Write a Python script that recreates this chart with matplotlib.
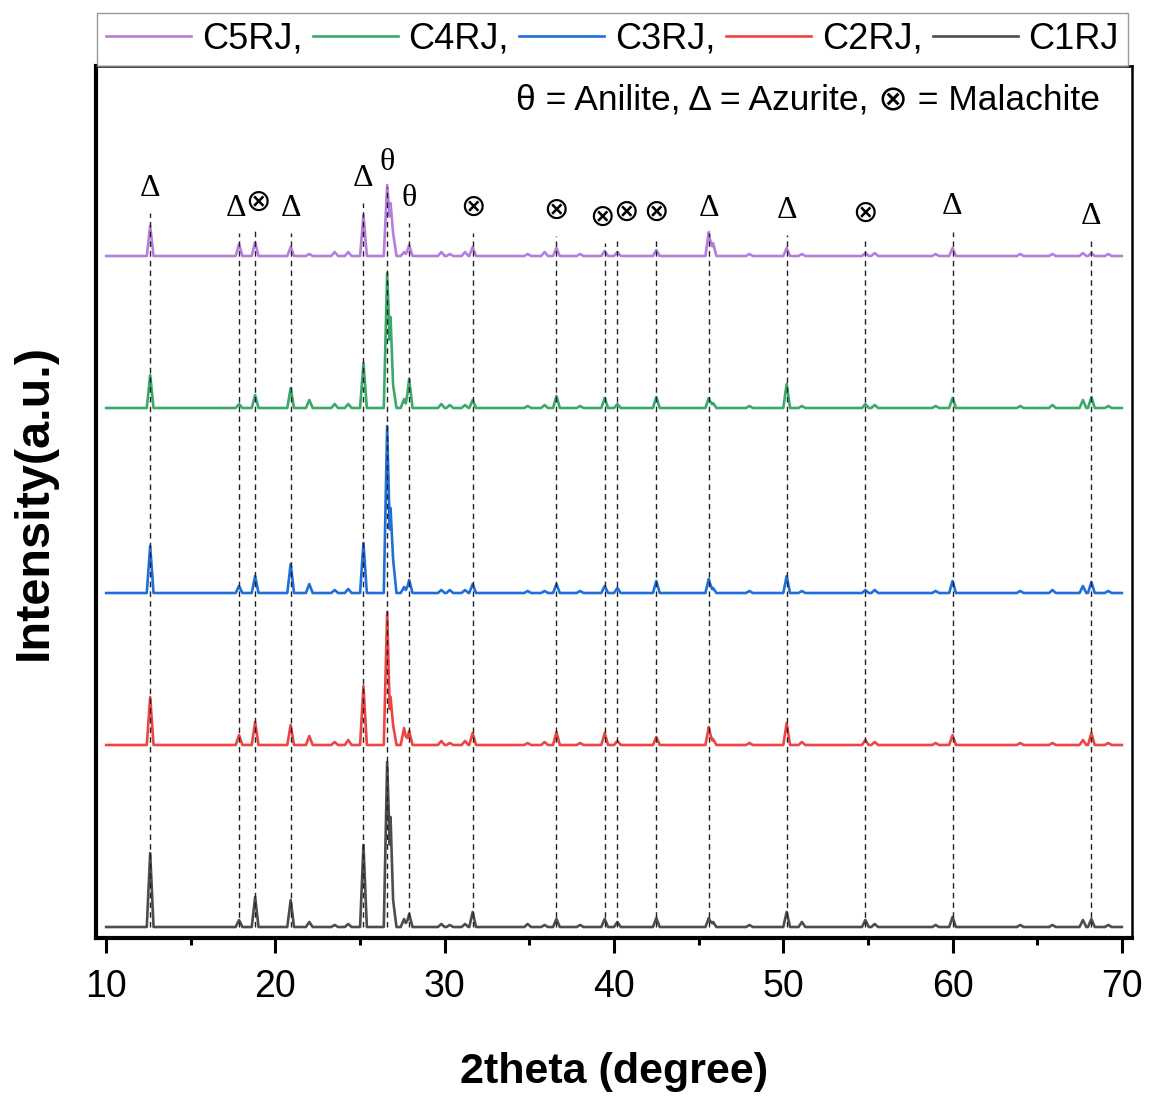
import numpy as np
import matplotlib

matplotlib.use("Agg")
import matplotlib.pyplot as plt
from matplotlib.ticker import MultipleLocator

SANS = ["Liberation Sans", "DejaVu Sans"]
SERIF = ["Liberation Serif", "DejaVu Sans"]

# peak positions (2theta, degree) shared by all samples
peak_pos = [12.6, 17.85, 18.8, 20.9, 22.0, 23.5, 24.3, 25.2, 26.6, 26.8, 26.95, 27.6, 27.9,
            29.8, 30.3, 31.2, 31.65, 34.9, 35.9, 36.6, 38.0, 39.45, 40.2, 42.5, 45.6, 45.85,
            48.0, 50.2, 51.1, 54.85, 55.4, 59.0, 60.0, 64.0, 65.9, 67.7, 68.2, 69.2]

# peak intensities (a.u.)
c1_int = [74, 7, 30, 27, 5, 2, 3, 82, 165, 110, 27, 8, 13, 3, 2, 3, 15, 3, 2, 8, 2, 8, 5, 9, 9, 5,
          2, 15, 5, 7, 3, 2, 10, 2, 2, 7, 8, 2]
c2_int = [48, 10, 23, 20, 9, 3, 5, 59, 133, 48, 20, 17, 14, 4, 2, 4, 12, 2, 3, 13, 2, 12, 4, 8, 18, 6,
          2, 22, 3, 5, 3, 2, 10, 2, 2, 5, 12, 2]
c3_int = [47, 7, 17, 29, 9, 3, 4, 50, 167, 85, 34, 6, 13, 3, 3, 3, 9, 2, 2, 9, 2, 7, 5, 12, 14, 5,
          2, 17, 2, 3, 3, 2, 12, 2, 3, 7, 11, 2]
c4_int = [33, 4, 13, 20, 8, 4, 4, 45, 135, 91, 23, 9, 29, 4, 3, 3, 8, 2, 3, 12, 2, 10, 4, 11, 10, 5,
          2, 24, 2, 4, 3, 2, 10, 2, 3, 8, 11, 2]
c5_int = [30, 12, 14, 9, 2, 4, 4, 41, 71, 53, 23, 4, 11, 4, 2, 4, 9, 2, 4, 8, 2, 5, 4, 6, 24, 13,
          2, 8, 2, 3, 3, 2, 8, 2, 2, 3, 3, 2]

sample_names = ["C5RJ", "C4RJ", "C3RJ", "C2RJ", "C1RJ"]
sample_ints = [c5_int, c4_int, c3_int, c2_int, c1_int]
sample_offsets = [682, 530, 345, 193, 11]
sample_colors = ["#B57EDC", "#3AAA6A", "#1F6FDB", "#EE4444", "#4D4D4D"]

# phase identification marks
phase_symbols = ["Δ", "Δ", "⊗", "Δ", "Δ", "θ", "θ", "⊗", "⊗", "⊗", "⊗", "⊗", "Δ", "Δ", "⊗", "Δ", "Δ"]
phase_pos = [12.6, 17.85, 18.8, 20.9, 25.2, 26.6, 27.9, 31.65, 36.6, 39.45, 40.2, 42.5,
             45.6, 50.2, 54.85, 60.0, 68.2]
label_y = [750, 730, 735, 730, 760, 776, 740, 730, 727, 720, 725, 725, 730, 728, 724, 731, 722]
label_dx = [0, -0.15, 0.15, 0, 0, 0, 0, 0, 0, -0.15, 0.5, 0, 0, 0, 0, 0, 0]


def trace(pos, heights, w=0.2, x0=10.0, x1=70.0):
    pos = np.asarray(pos, dtype=float)
    heights = np.asarray(heights, dtype=float)
    xs = np.unique(np.clip(np.concatenate([[x0, x1], pos - w, pos, pos + w]), x0, x1))
    tri = np.clip(1 - np.abs(xs[:, None] - pos[None, :]) / w, 0, None) * heights[None, :]
    return xs, tri.max(axis=1)


fig = plt.figure(figsize=(11.6, 10.97), dpi=100)
ax = fig.add_axes([96 / 1160, 159 / 1097, 1036 / 1160, 872 / 1097])

for name, ints, off, col in zip(sample_names, sample_ints, sample_offsets, sample_colors):
    xs, ys = trace(peak_pos, ints)
    lab = name if name == "C1RJ" else name + ","
    ax.plot(xs, ys + off, color=col, lw=1.9, label=lab, zorder=3)

base = sample_offsets[-1]
for sym, x, ly, dx in zip(phase_symbols, phase_pos, label_y, label_dx):
    ax.plot([x, x], [base, ly - 25], ls=(0, (4, 3)), color="#222222", lw=1.0, zorder=4)
    size = 22 if sym == "⊗" else 23
    ax.text(x + dx, ly, sym, ha="center", va="center", fontsize=size, family=SERIF)

ax.text(0.969, 0.961, "θ = Anilite, Δ = Azurite, ⊗ = Malachite", transform=ax.transAxes,
        ha="right", va="center", fontsize=25.5, family=SANS)

ax.set_xlim(9.4, 70.6)
ax.set_ylim(0, 872)
ax.set_yticks([])
ax.xaxis.set_major_locator(MultipleLocator(10))
ax.xaxis.set_minor_locator(MultipleLocator(5))
ax.tick_params(axis="x", which="major", direction="out", length=11, width=2.2, pad=11)
ax.tick_params(axis="x", which="minor", direction="out", length=5, width=2.2)
for lbl in ax.get_xticklabels():
    lbl.set_fontsize(27)
    lbl.set_family(SANS)
for side in ["left", "bottom"]:
    ax.spines[side].set_linewidth(3.0)
for side in ["top", "right"]:
    ax.spines[side].set_linewidth(1.8)

ax.set_xlabel("2theta (degree)", fontsize=31, fontweight="bold", family=SANS, labelpad=34)
ax.set_ylabel("Intensity(a.u.)", fontsize=35, fontweight="bold", family=SANS, labelpad=28)

leg = ax.legend(loc="lower left", bbox_to_anchor=(0.001, 1.0, 0.995, 0.066), mode="expand", ncol=5,
                borderaxespad=0, frameon=True, fancybox=False, handlelength=2.35, handletextpad=0.3,
                columnspacing=0.3, borderpad=0.25, prop={"family": SANS, "size": 26})
leg.get_frame().set_edgecolor("#808080")
leg.get_frame().set_linewidth(1.0)

fig.savefig("out.png", dpi=100)
